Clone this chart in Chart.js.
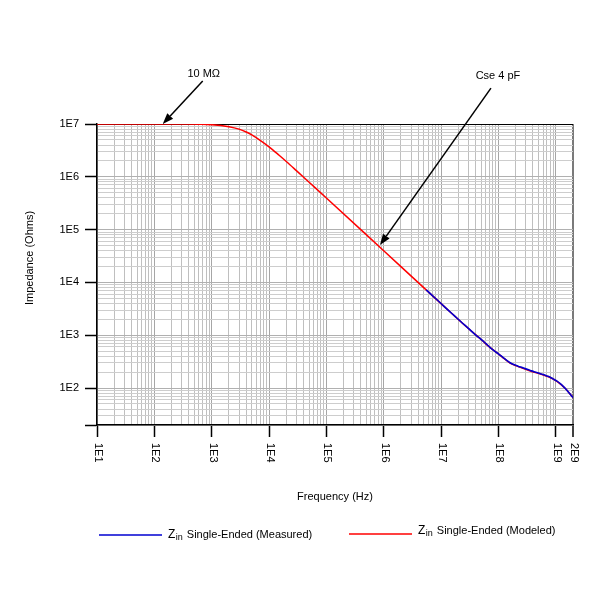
<!DOCTYPE html>
<html><head><meta charset="utf-8">
<script src="https://cdn.jsdelivr.net/npm/chart.js@4.4.1/dist/chart.umd.min.js"></script>
<style>html,body{margin:0;padding:0;background:#fff}#wrap{width:600px;height:600px;position:relative}</style>
</head><body><div id="wrap"><canvas id="c"></canvas></div>
<script>
// ---- Data ----
const freqMeasured = [5.5e6, 7e6, 1e7, 1.3e7, 1.7e7, 2.2e7, 3e7, 4e7, 5e7, 6e7, 7.2e7, 8.5e7, 1e8, 1.2e8, 1.4e8, 1.6e8, 1.9e8, 2.2e8, 2.6e8, 3e8, 3.6e8, 4.2e8, 4.8e8, 5.4e8, 6.2e8, 7e8, 8e8, 9e8, 1.05e9, 1.2e9, 1.35e9, 1.5e9, 1.7e9, 1.85e9, 2e9];
const zMeasured    = [7230, 5690, 3990, 3060, 2350, 1820, 1350, 1020, 835, 700, 585, 505, 445, 381, 334, 302, 276, 260, 244, 231, 216, 204, 196, 187, 179, 170, 161, 149, 135, 121, 108, 96, 82, 73, 66];
const freqModeled  = [10, 100, 300, 1000, 2000, 3000, 4000, 5000, 7000, 1e4, 1.5e4, 2e4, 3e4, 5e4, 1e5, 1e6, 1e7, 3e7, 5e7, 7.2e7, 1e8, 1.3e8, 1.6e8, 2e8, 2.4e8, 3.6e8, 5.4e8, 8e8, 1.05e9, 1.47e9, 2e9];
const zModeled     = [1.0e7, 1.0e7, 9.97e6, 9.7e6, 8.9e6, 8.0e6, 7.05e6, 6.2e6, 4.9e6, 3.7e6, 2.56e6, 1.95e6, 1.31e6, 7.9e5, 3.98e5, 3.98e4, 3.98e3, 1.34e3, 830, 582, 443, 352, 298, 266, 247, 211, 185, 159, 134, 98, 66];
const seriesLabels = ['Z_in Single-Ended (Measured)', 'Z_in Single-Ended (Modeled)'];
const xLabelValues = [1e1, 1e2, 1e3, 1e4, 1e5, 1e6, 1e7, 1e8, 1e9, 2e9];
const xTickLabels  = ['1E1','1E2','1E3','1E4','1E5','1E6','1E7','1E8','1E9','2E9'];
const yLabelValues = [1e2, 1e3, 1e4, 1e5, 1e6, 1e7];
const yTickLabels  = ['1E2','1E3','1E4','1E5','1E6','1E7'];
const annotations = [
  {text: '10 M\u03A9', tipX: 140, tipY: 1e7, tail: [40, -43], textOff: [1, -4]},
  {text: 'Cse 4 pF', tipX: 8.6e5, tipY: 5.1e4, tail: [111, -157], textOff: [7, -9]}
];

const FONT = '"Liberation Sans", Arial, sans-serif';
Chart.defaults.font.family = FONT;
Chart.defaults.font.size = 11;
Chart.defaults.color = '#000';

function logGrid(min, max) {
  const out = [];
  for (let e = Math.floor(Math.log10(min)); e <= Math.ceil(Math.log10(max)); e++) {
    for (let m = 1; m <= 9; m++) {
      const v = m * Math.pow(10, e);
      if (v >= min * 0.999 && v <= max * 1.001) out.push(v);
    }
  }
  if (out[out.length - 1] < max) out.push(max);
  return out;
}
const isDecade = v => Math.abs(Math.log10(v) - Math.round(Math.log10(v))) < 1e-9;
const near = (a, b) => Math.abs(a / b - 1) < 1e-6;

const overlay = {
  id: 'overlay',
  afterDraw(chart) {
    const ctx = chart.ctx, xs = chart.scales.x, ys = chart.scales.y;
    ctx.save();
    ctx.fillStyle = '#000';
    ctx.font = '11px ' + FONT;
    // rotated x tick labels (reading top to bottom)
    xLabelValues.forEach((v, i) => {
      const px = xs.getPixelForValue(v);
      ctx.save();
      ctx.translate(px + 1, xs.top + 18);
      ctx.rotate(Math.PI / 2);
      ctx.textAlign = 'left'; ctx.textBaseline = 'middle';
      ctx.fillText(xTickLabels[i], 0, 0);
      ctx.restore();
    });
    // y axis title
    ctx.save();
    ctx.translate(30, 258);
    ctx.rotate(-Math.PI / 2);
    ctx.textAlign = 'center'; ctx.textBaseline = 'middle';
    ctx.fillText('Impedance (Ohms)', 0, 0);
    ctx.restore();
    // annotations
    ctx.strokeStyle = '#000'; ctx.lineWidth = 1.5;
    annotations.forEach(a => {
      const tx = xs.getPixelForValue(a.tipX), ty = ys.getPixelForValue(a.tipY);
      const sx = tx + a.tail[0], sy = ty + a.tail[1];
      const ang = Math.atan2(ty - sy, tx - sx), L = 11, W = 4;
      const bx = tx - L * Math.cos(ang), by = ty - L * Math.sin(ang);
      ctx.beginPath(); ctx.moveTo(sx, sy); ctx.lineTo(bx, by); ctx.stroke();
      ctx.beginPath(); ctx.moveTo(tx, ty);
      ctx.lineTo(bx + W * Math.sin(ang), by - W * Math.cos(ang));
      ctx.lineTo(bx - W * Math.sin(ang), by + W * Math.cos(ang));
      ctx.closePath(); ctx.fill();
      ctx.textAlign = 'center'; ctx.textBaseline = 'alphabetic';
      ctx.fillText(a.text, sx + a.textOff[0], sy + a.textOff[1]);
    });
    // custom legend with subscript
    const items = [{x: 99, y: 535, base: 537.5}, {x: 349, y: 534, base: 534}];
    chart.data.datasets.forEach((ds, i) => {
      const it = items[i];
      ctx.strokeStyle = ds.borderColor; ctx.lineWidth = 1.5;
      ctx.beginPath(); ctx.moveTo(it.x, it.y); ctx.lineTo(it.x + 63, it.y); ctx.stroke();
      const m = /^(\w)_(\w+)\s(.*)$/.exec(ds.label);
      let x = it.x + 69;
      ctx.textAlign = 'left'; ctx.textBaseline = 'alphabetic'; ctx.fillStyle = '#000';
      ctx.font = '12px ' + FONT;
      ctx.fillText(m[1], x, it.base); x += ctx.measureText(m[1]).width + 0.5;
      ctx.font = '9px ' + FONT;
      ctx.fillText(m[2], x, it.base + 2); x += ctx.measureText(m[2]).width + 4;
      ctx.font = '11px ' + FONT;
      ctx.fillText(m[3], x, it.base);
    });
    ctx.restore();
  }
};

new Chart(document.getElementById('c'), {
  type: 'line',
  data: {
    datasets: [
      {label: seriesLabels[0], data: freqMeasured.map((f, i) => ({x: f, y: zMeasured[i]})),
       borderColor: '#0000d0', borderWidth: 1.6, pointRadius: 0, cubicInterpolationMode: 'monotone', fill: false},
      {label: seriesLabels[1], data: freqModeled.map((f, i) => ({x: f, y: zModeled[i]})),
       borderColor: '#ff0000', borderWidth: 1.5, pointRadius: 0, cubicInterpolationMode: 'monotone', fill: false}
    ]
  },
  options: {
    responsive: true, maintainAspectRatio: false, animation: false,
    layout: {padding: {top: 124, right: 27, left: 0, bottom: 0}},
    plugins: {legend: {display: false}, tooltip: {enabled: false}},
    scales: {
      x: {
        type: 'logarithmic', min: 10, max: 2e9, position: 'bottom',
        afterBuildTicks: s => { s.ticks = logGrid(10, 2e9).map(v => ({value: v})); },
        afterFit: s => { s.height = 175; },
        ticks: {display: false, autoSkip: false},
        grid: {
          color: c => near(c.tick.value, 2e9) ? '#7a7a7a' : (isDecade(c.tick.value) ? '#a6a6a6' : '#bfbfbf'),
          lineWidth: c => near(c.tick.value, 2e9) ? 2 : 1,
          drawTicks: true, tickLength: 12, tickWidth: 1.5,
          tickColor: c => xLabelValues.some(v => near(v, c.tick.value)) ? '#000' : 'rgba(0,0,0,0)'
        },
        border: {display: true, color: '#000', width: 1.5},
        title: {display: true, text: 'Frequency (Hz)', font: {size: 11}, color: '#000', padding: {top: 0, bottom: 96}}
      },
      y: {
        type: 'logarithmic', min: 20, max: 1e7, position: 'left',
        afterBuildTicks: s => { s.ticks = logGrid(20, 1e7).map(v => ({value: v})); },
        afterFit: s => { s.width = 97; },
        ticks: {
          autoSkip: false, padding: 6, font: {size: 11}, color: '#000',
          callback: v => { const i = yLabelValues.findIndex(t => near(t, v)); return i >= 0 ? yTickLabels[i] : ''; }
        },
        grid: {
          color: c => near(c.tick.value, 1e7) ? '#000' : (isDecade(c.tick.value) ? '#b0b0b0' : '#cdcdcd'),
          lineWidth: 1,
          drawTicks: true, tickLength: 12, tickWidth: 1.5,
          tickColor: c => (yLabelValues.some(v => near(v, c.tick.value)) || near(c.tick.value, 20)) ? '#000' : 'rgba(0,0,0,0)'
        },
        border: {display: true, color: '#000', width: 1.5}
      }
    }
  },
  plugins: [overlay]
});
</script></body></html>
